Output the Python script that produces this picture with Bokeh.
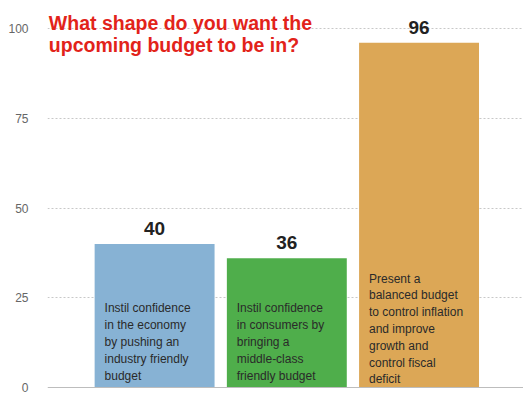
from bokeh.plotting import figure
from bokeh.models import ColumnDataSource, Range1d, Label, Span, FixedTicker
from bokeh.core.properties import value
from bokeh.embed import file_html
from bokeh.resources import INLINE

# ---- data ----
categories = [
    "Instil confidence\nin the economy\nby pushing an\nindustry friendly\nbudget",
    "Instil confidence\nin consumers by\nbringing a\nmiddle-class\nfriendly budget",
    "Present a\nbalanced budget\nto control inflation\nand improve\ngrowth and\ncontrol fiscal\ndeficit",
]
values = [40, 36, 96]
bar_colors = ["#87b2d4", "#4fae4b", "#dca756"]
y_ticks = [0, 25, 50, 75, 100]
title_lines = ["What shape do you want the", "upcoming budget to be in?"]

xs = list(range(len(values)))
PX = 3.59  # pixels per unit on y

p = figure(width=523, height=396, output_backend="svg", toolbar_location=None,
           x_range=Range1d(-0.81, 2.79), y_range=Range1d(-2.5, 107.8),
           x_axis_type=None, min_border_left=47, min_border_right=0,
           min_border_top=0, min_border_bottom=0)
p.outline_line_color = None
p.background_fill_color = "white"
p.border_fill_color = "white"

# grid
p.xgrid.visible = False
p.ygrid.ticker = FixedTicker(ticks=[t for t in y_ticks if t > 0])
p.ygrid.grid_line_color = "#c8c8c8"
p.ygrid.grid_line_dash = "2 2"
p.ygrid.grid_line_width = 1

# y axis
ax = p.yaxis[0]
ax.ticker = FixedTicker(ticks=y_ticks)
ax.axis_line_color = None
ax.major_tick_line_color = None
ax.minor_tick_line_color = None
ax.major_tick_out = 0
ax.major_tick_in = 0
ax.major_label_standoff = 19
ax.major_label_text_font = "Liberation Sans"
ax.major_label_text_font_size = "12px"
ax.major_label_text_color = "#666666"

# zero line
p.add_layout(Span(location=0, dimension="width", line_color="#bdbdbd", line_width=1.2))

src = ColumnDataSource(dict(x=xs, top=values, color=bar_colors, desc=categories,
                            lab=[str(v) for v in values],
                            laby=[v + 9 / PX for v in values]))
p.vbar(x="x", top="top", bottom=0, width=0.907, fill_color="color",
       line_color=None, source=src)

# value labels
p.text(x="x", y="laby", text="lab", source=src, text_align="center",
       text_baseline="bottom",
       text_font=value("Liberation Sans"), text_font_style="bold",
       text_font_size="19px", text_color="#222222")

# descriptions inside bars
desc_top = [24.0, 24.0, 32.3]
dsrc = ColumnDataSource(dict(x=[x - 0.907 / 2 + 0.075 for x in xs], y=desc_top,
                             t=categories))
p.text(x="x", y="y", text="t", source=dsrc, text_align="left",
       text_baseline="top", text_font=value("Liberation Sans"),
       text_font_size="12px", text_line_height=1.2, text_color="#2a2a2a")

# title
for i, line in enumerate(title_lines):
    p.add_layout(Label(x=-0.80, y=101.4 - i * 22 / PX, text=line,
                       text_font="Liberation Sans", text_font_style="bold",
                       text_font_size="19.5px", text_color="#e2231a",
                       text_baseline="alphabetic"))

open("out.html", "w").write(file_html(p, INLINE))
